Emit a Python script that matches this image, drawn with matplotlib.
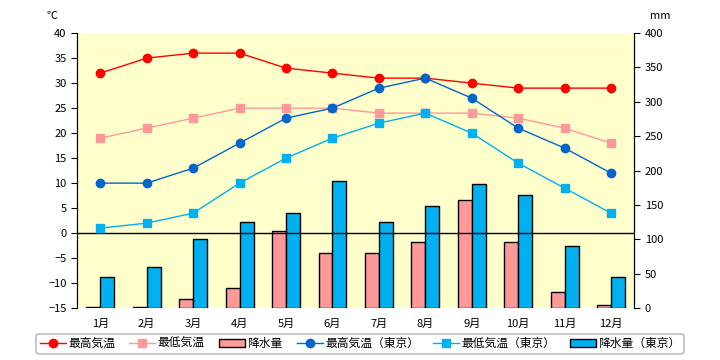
import matplotlib
matplotlib.use('Agg')
import matplotlib.pyplot as plt
from matplotlib.lines import Line2D
from matplotlib.patches import Patch
import numpy as np

plt.rcParams['font.family'] = ['Noto Sans CJK JP', 'DejaVu Sans']

# data
months = ['1月', '2月', '3月', '4月', '5月', '6月', '7月', '8月', '9月', '10月', '11月', '12月']
tmax = [32, 35, 36, 36, 33, 32, 31, 31, 30, 29, 29, 29]
tmin = [19, 21, 23, 25, 25, 25, 24, 24, 24, 23, 21, 18]
rain = [2, 2, 14, 30, 112, 80, 80, 96, 157, 96, 23, 4]
tokyo_tmax = [10, 10, 13, 18, 23, 25, 29, 31, 27, 21, 17, 12]
tokyo_tmin = [1, 2, 4, 10, 15, 19, 22, 24, 20, 14, 9, 4]
tokyo_rain = [45, 60, 100, 125, 138, 185, 126, 148, 180, 164, 90, 46]

RED = '#FF0000'
PINK = '#FF9999'
BLUE = '#0066CC'
SKY = '#00B0F0'

fig = plt.figure(figsize=(7.2, 3.6), dpi=100)
ax = fig.add_axes([0.107, 0.144, 0.774, 0.764])
ax2 = ax.twinx()

# temperature axis in front, rain axis (with the yellow background) behind
ax.set_zorder(2)
ax.patch.set_visible(False)
ax2.set_zorder(1)
ax2.patch.set_visible(True)
ax2.set_facecolor('#FFFFCC')

x = np.arange(len(months))
w = 0.3
# bars on the right axis (mm)
ax2.bar(x - w / 2, rain, w, color=PINK, edgecolor='black', linewidth=1)
ax2.bar(x + w / 2, tokyo_rain, w, color=SKY, edgecolor='black', linewidth=1)
ax2.set_ylim(0, 400)
ax2.set_yticks(np.arange(0, 401, 50))

# zero line and temperature lines on the left axis
ax.axhline(0, color='black', linewidth=1, zorder=1)
ax.plot(x, tmax, color=RED, marker='o', markersize=6, linewidth=1)
ax.plot(x, tmin, color=PINK, marker='s', markersize=6, linewidth=1)
ax.plot(x, tokyo_tmax, color=BLUE, marker='o', markersize=6, linewidth=1)
ax.plot(x, tokyo_tmin, color=SKY, marker='s', markersize=6, linewidth=1)
ax.set_ylim(-15, 40)
ax.set_yticks(np.arange(-15, 41, 5))
ax.set_xlim(-0.5, 11.5)
ax.set_xticks(x)
ax.set_xticklabels(months)
ax.tick_params(axis='x', length=0, labelsize=8, pad=8)
ax.tick_params(axis='y', labelsize=8, direction='out', length=4)
ax2.tick_params(axis='y', labelsize=8, direction='out', length=4)

for a in (ax, ax2):
    a.spines['top'].set_visible(False)
    a.spines['bottom'].set_visible(False)

fig.text(0.072, 0.955, '℃', fontsize=8, ha='center', va='center')
fig.text(0.917, 0.955, 'mm', fontsize=8, ha='center', va='center')

# legend
handles = [
    Line2D([], [], color=RED, marker='o', markersize=6, linewidth=1),
    Line2D([], [], color=PINK, marker='s', markersize=6, linewidth=1),
    Patch(facecolor=PINK, edgecolor='black'),
    Line2D([], [], color=BLUE, marker='o', markersize=6, linewidth=1),
    Line2D([], [], color=SKY, marker='s', markersize=6, linewidth=1),
    Patch(facecolor=SKY, edgecolor='black'),
]
labels = ['最高気温', '最低気温', '降水量', '最高気温（東京）', '最低気温（東京）', '降水量（東京）']
leg = fig.legend(handles, labels, loc='center', bbox_to_anchor=(0.5, 0.045), ncol=6,
                 fontsize=8.5, frameon=True, fancybox=True, handlelength=2.2,
                 handletextpad=0.2, columnspacing=1.2, borderpad=0.3)
leg.get_frame().set_edgecolor('#BBBBBB')
leg.get_frame().set_linewidth(1.5)

fig.savefig('out.png', dpi=100)
